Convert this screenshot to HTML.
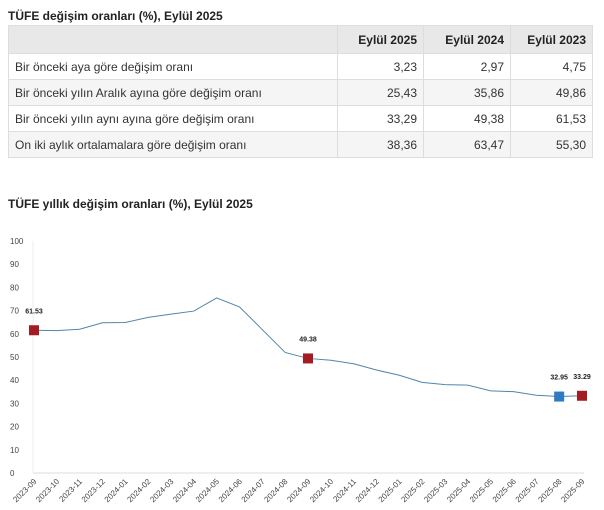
<!DOCTYPE html>
<html><head><meta charset="utf-8"><style>
body{margin:0;width:604px;height:510px;background:#fff;font-family:"Liberation Sans","DejaVu Sans",sans-serif;position:relative;overflow:hidden}
.t{position:absolute;left:8px;font-weight:bold;font-size:12px;color:#222}
table{position:absolute;left:8px;top:25px;width:585px;border-collapse:collapse;font-size:12px;color:#333}
td,th{border:1px solid #ddd;height:25px;padding:0 6px;}
th{background:#e8e8e8;text-align:right;font-weight:bold;color:#222}
td.n{text-align:right}
tr:nth-child(odd) td{background:#f5f5f5}
</style></head><body>
<div class="t" style="top:9px">TÜFE değişim oranları (%), Eylül 2025</div>
<table>
<tr style="height:28px"><th style="width:316px;text-align:left"></th><th style="width:73px">Eylül 2025</th><th style="width:74px">Eylül 2024</th><th>Eylül 2023</th></tr>
<tr><td>Bir önceki aya göre değişim oranı</td><td class="n">3,23</td><td class="n">2,97</td><td class="n">4,75</td></tr>
<tr><td>Bir önceki yılın Aralık ayına göre değişim oranı</td><td class="n">25,43</td><td class="n">35,86</td><td class="n">49,86</td></tr>
<tr><td>Bir önceki yılın aynı ayına göre değişim oranı</td><td class="n">33,29</td><td class="n">49,38</td><td class="n">61,53</td></tr>
<tr><td>On iki aylık ortalamalara göre değişim oranı</td><td class="n">38,36</td><td class="n">63,47</td><td class="n">55,30</td></tr>
</table>
<div class="t" style="top:197px">TÜFE yıllık değişim oranları (%), Eylül 2025</div>
<svg id="c" width="604" height="510" style="position:absolute;left:0;top:0"></svg>
<script>
const categories=["2023-09","2023-10","2023-11","2023-12","2024-01","2024-02","2024-03","2024-04","2024-05","2024-06","2024-07","2024-08","2024-09","2024-10","2024-11","2024-12","2025-01","2025-02","2025-03","2025-04","2025-05","2025-06","2025-07","2025-08","2025-09"];
const values=[61.53,61.36,61.98,64.77,64.86,67.07,68.50,69.80,75.45,71.60,61.78,51.97,49.38,48.58,47.09,44.38,42.12,39.05,38.10,37.86,35.41,35.05,33.52,32.95,33.29];
const yTicks=[0,10,20,30,40,50,60,70,80,90,100];
const markers=[{i:0,c:"#a31c22",l:"61.53"},{i:12,c:"#a31c22",l:"49.38"},{i:23,c:"#2f7bbf",l:"32.95"},{i:24,c:"#a31c22",l:"33.29"}];
const svg=document.getElementById('c');const NS="http://www.w3.org/2000/svg";
const x=i=>34+i*(582-34)/(categories.length-1);
const y=v=>473-v*2.32;
function mk(t,a,name,inter){const e=document.createElementNS(NS,t);for(const k in a)e.setAttribute(k,a[k]);


svg.appendChild(e);return e;}
yTicks.forEach(v=>{const e=mk('text',{x:10,y:y(v)+3,'font-size':8,fill:'#444'},'y-tick-label','false');e.textContent=v;});
mk('line',{x1:33,y1:473,x2:584,y2:473,stroke:'#ddd'},'x-axis','false');
mk('line',{x1:33,y1:241,x2:33,y2:473,stroke:'#eee'},'y-axis','false');
categories.forEach((c,i)=>{const e=mk('text',{x:x(i)+3,y:482,'font-size':8,fill:'#444','text-anchor':'end',transform:`rotate(-45 ${x(i)+3} 482)`},'x-tick-label','false');e.textContent=c;});
mk('polyline',{points:values.map((v,i)=>x(i)+','+y(v)).join(' '),fill:'none',stroke:'#4f86ad','stroke-width':1},'inflation-line','false');
markers.forEach(m=>{mk('rect',{x:x(m.i)-5,y:y(values[m.i])-5,width:10,height:10,fill:m.c},'marker-'+categories[m.i],'true');
const e=mk('text',{x:x(m.i),y:y(values[m.i])-17,'font-size':7,'font-weight':'bold',fill:'#222','text-anchor':'middle'},'marker-label','false');e.textContent=m.l;});
</script>
</body></html>
